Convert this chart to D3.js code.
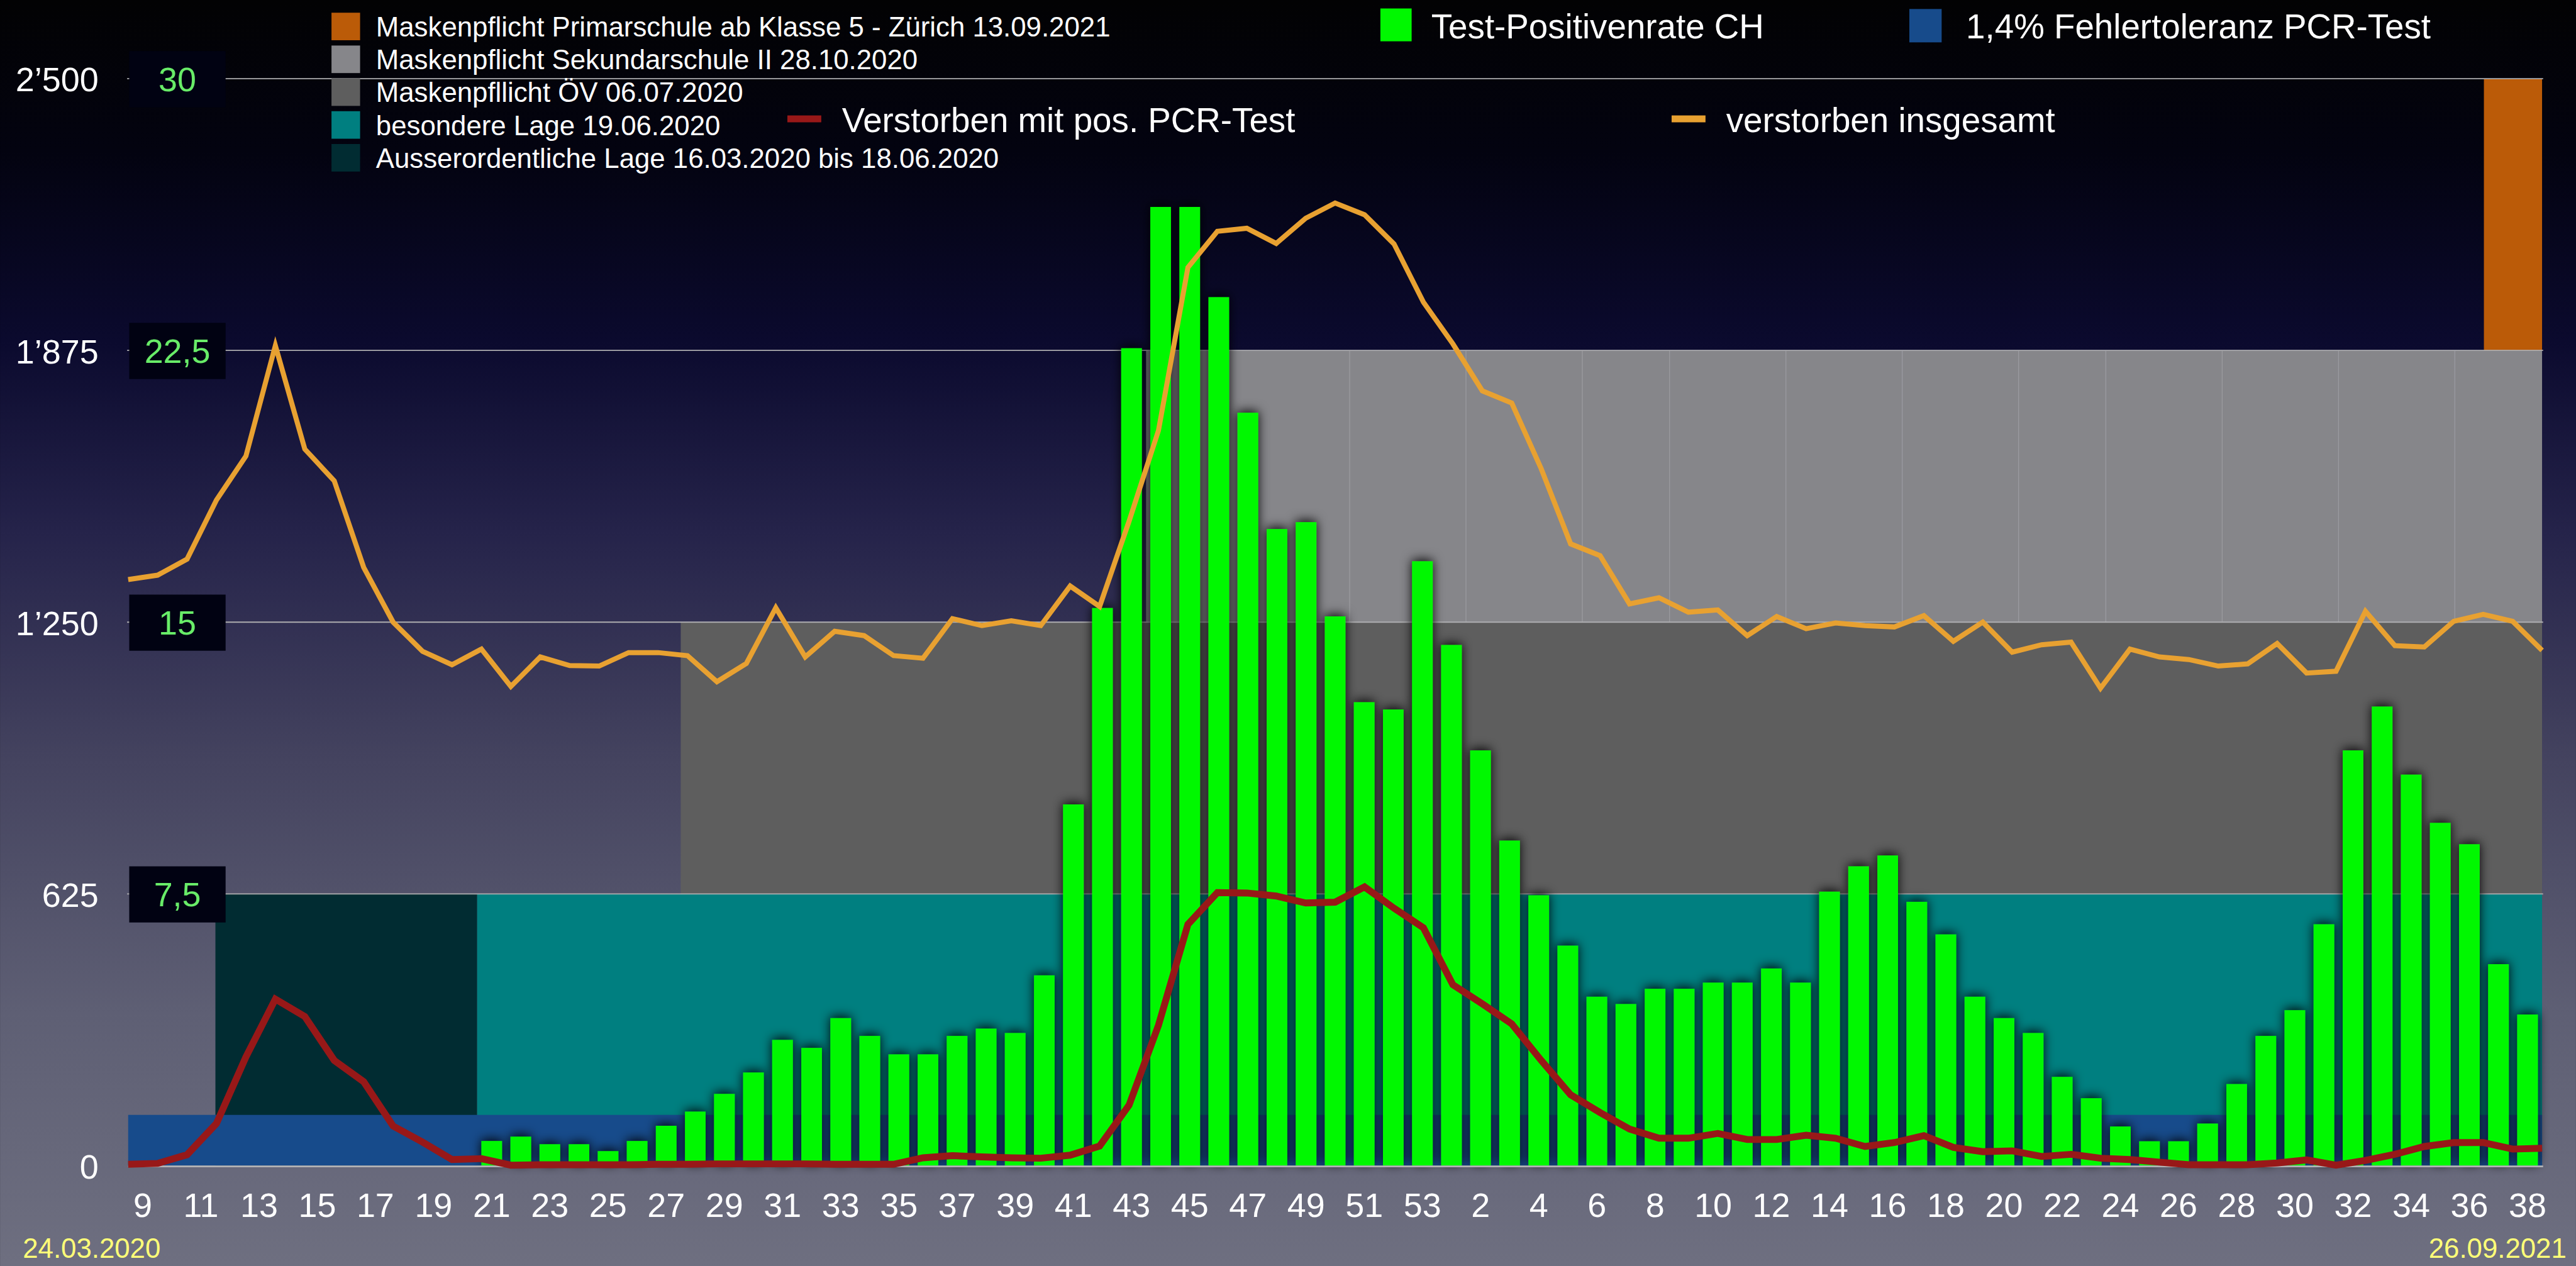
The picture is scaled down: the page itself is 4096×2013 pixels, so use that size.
<!DOCTYPE html>
<html>
<head>
<meta charset="utf-8">
<script src="https://cdn.jsdelivr.net/npm/d3@7"></script>
<style>
  html, body { margin: 0; padding: 0; background: #000; overflow: hidden; }
  svg { display: block; }
  text { font-family: 'Helvetica Neue', 'Liberation Sans', Arial, sans-serif; }
</style>
</head>
<body>
<div id="chart"></div>
<script>
// KALENDERWOCHEN
const weeks2020 = [9, 10, 11, 12, 13, 14, 15, 16, 17, 18, 19, 20, 21, 22, 23, 24, 25, 26, 27, 28, 29, 30, 31, 32, 33, 34, 35, 36, 37, 38, 39, 40, 41, 42, 43, 44, 45, 46, 47, 48, 49, 50, 51, 52, 53];
const weeks2021 = [1, 2, 3, 4, 5, 6, 7, 8, 9, 10, 11, 12, 13, 14, 15, 16, 17, 18, 19, 20, 21, 22, 23, 24, 25, 26, 27, 28, 29, 30, 31, 32, 33, 34, 35, 36, 37, 38];

// TEST-POSITIVENRATE CH in % (right axis) - no bars before KW 21/2020
const positivity = [
  null, null, null, null, null, null, null, null, null, null, null, null,
  0.68, 0.80, 0.59, 0.59, 0.40, 0.68, 1.10, 1.49, 1.98, 2.57, 3.47, 3.25, 4.07, 3.58, 3.07, 3.07, 3.58, 3.78, 3.66, 5.25, 9.97,
  15.39, 22.56, 26.46, 26.46, 23.97, 20.78, 17.57, 17.76, 15.16, 12.79, 12.59, 16.68,
  14.37, 11.46, 8.97, 7.46, 6.07, 4.66, 4.46, 4.88, 4.88, 5.05, 5.05, 5.44, 5.05, 7.56, 8.26, 8.56, 7.28, 6.38, 4.66,
  4.07, 3.66, 2.45, 1.86, 1.08, 0.67, 0.67, 1.16, 2.25, 3.58, 4.29, 6.66, 11.46, 12.67, 10.79, 9.46, 8.87, 5.56, 4.17
];

// VERSTORBEN MIT POS. PCR-TEST (left axis)
const deathsPcr = [
  3, 5, 25, 97, 250, 383, 343, 242, 193, 91, 54, 14, 16, 1, 2, 2, 2, 2, 3, 3, 4, 4, 4, 4, 3, 3, 3,
  18, 23, 20, 18, 17, 24, 45, 139, 323, 555, 628, 627, 620, 604, 606, 641, 592, 547,
  416, 372, 326, 242, 163, 122, 84, 63, 63, 74, 60, 60, 70, 63, 44, 53, 69, 42, 32, 34, 21, 26, 17, 14, 8,
  2, 2, 2, 6, 13, 1, 12, 26, 44, 53, 53, 38, 40
];

// VERSTORBEN INSGESAMT (left axis)
const deathsTotal = [
  1348, 1358, 1395, 1531, 1632, 1886, 1648, 1575, 1376, 1250, 1183, 1152, 1188, 1102, 1170, 1150, 1149, 1180, 1180, 1173,
  1113, 1155, 1283, 1170, 1229, 1219, 1173, 1167, 1258, 1242, 1253, 1242, 1333, 1286, 1482, 1691, 2066, 2149, 2156, 2121,
  2179, 2214, 2187, 2120, 1986, 1890, 1782, 1754, 1603, 1430, 1403, 1292, 1306, 1273, 1278, 1219, 1263, 1235, 1248, 1242,
  1239, 1265, 1206, 1250, 1181, 1198, 1204, 1098, 1188, 1170, 1164, 1149, 1154, 1201, 1133, 1137, 1275, 1196, 1193, 1252,
  1268, 1252, 1185
];

// AXIS TICKS
const leftTicks = [0, 625, 1250, 1875, 2500];
const rightTicks = [7.5, 15, 22.5, 30];

// MASSNAHMEN (background phases)
const phaseNames = [
  'Maskenpflicht Primarschule ab Klasse 5 - Zürich 13.09.2021',
  'Maskenpflicht Sekundarschule II 28.10.2020',
  'Maskenpfllicht ÖV 06.07.2020',
  'besondere Lage 19.06.2020',
  'Ausserordentliche Lage 16.03.2020 bis 18.06.2020'
];
const phaseColors = ['#bb5b08', '#86868a', '#5e5e5e', '#007f80', '#012c32'];
const phaseFrom = ['2021-37', '2020-44', '2020-28', '2020-21', '2020-12'];
const phaseTo = ['2021-38', '2021-38', '2021-38', '2021-38', '2020-20'];
const phaseLow = [1875, 1250, 625, 0, 0];
const phaseHigh = [2500, 1875, 1250, 625, 625];

// 1,4% FEHLERTOLERANZ
const errorTolerance = 1.4;

// faint dividers inside the grey band
const dividerWeeks = ['2020-51', '2021-2', '2021-6', '2021-9', '2021-13', '2021-17', '2021-21', '2021-24', '2021-28', '2021-32', '2021-36'];

const startDate = '24.03.2020';
const endDate = '26.09.2021';

function makeChart() {
  const keys = weeks2020.map((w) => `2020-${w}`).concat(weeks2021.map((w) => `2021-${w}`));
  const data = keys.map((k, i) => ({
    key: k,
    week: +k.split('-')[1],
    pos: positivity[i],
    pcr: deathsPcr[i],
    total: deathsTotal[i],
  }));

  const W = 4865;
  const H = 2391;
  const margin = { top: 148.6, right: 64, bottom: 189.6, left: 242 };
  const x0 = margin.left;
  const x1 = W - margin.right;
  const y0 = H - margin.bottom;
  const y1 = margin.top;

  const svg = d3
    .select('#chart')
    .append('svg')
    .attr('width', 4096)
    .attr('height', 2013)
    .attr('viewBox', `0 0 ${W} ${H}`);

  const defs = svg.append('defs');
  const grad = defs
    .append('linearGradient')
    .attr('id', 'bg')
    .attr('x1', 0).attr('y1', 0).attr('x2', 0).attr('y2', 1);
  [
    [0, '#020203'], [0.12, '#030310'], [0.27, '#0b0a2e'], [0.42, '#25234a'],
    [0.6, '#44435f'], [0.8, '#5e5f74'], [1, '#6e6f80'],
  ].forEach((s) => grad.append('stop').attr('offset', s[0]).attr('stop-color', s[1]));

  const shadow = defs
    .append('filter')
    .attr('id', 'barShadow')
    .attr('x', '-10%').attr('y', '-10%').attr('width', '120%').attr('height', '120%');
  shadow
    .append('feDropShadow')
    .attr('dx', 0).attr('dy', -3)
    .attr('stdDeviation', 10)
    .attr('flood-color', '#000')
    .attr('flood-opacity', 0.95);

  // SCALES
  const xBand = d3.scaleBand().domain(keys).range([x0, x1]).paddingInner(0.29).paddingOuter(0.145);
  const xLine = d3.scalePoint().domain(keys).range([x0, x1]);
  const yLeft = d3.scaleLinear().domain([0, 2500]).range([y0, y1]);
  const yRight = d3.scaleLinear().domain([0, 30]).range([y0, y1]);
  const step = xBand.step();
  const edge = (k) => xBand(k) - (step - xBand.bandwidth()) / 2;

  svg.append('rect').attr('width', W).attr('height', H).attr('fill', 'url(#bg)');

  // PHASES
  svg
    .append('g')
    .selectAll('rect')
    .data(phaseNames.map((n, i) => i).reverse())
    .enter()
    .append('rect')
    .attr('x', (i) => edge(phaseFrom[i]))
    .attr('y', (i) => yLeft(phaseHigh[i]))
    .attr('width', (i) => edge(phaseTo[i]) + step - edge(phaseFrom[i]))
    .attr('height', (i) => yLeft(phaseLow[i]) - yLeft(phaseHigh[i]))
    .attr('fill', (i) => phaseColors[i]);

  svg
    .append('g')
    .selectAll('line')
    .data(dividerWeeks)
    .enter()
    .append('line')
    .attr('x1', (k) => edge(k))
    .attr('x2', (k) => edge(k))
    .attr('y1', yLeft(1875))
    .attr('y2', yLeft(1250))
    .attr('stroke', '#9b9ba0')
    .attr('stroke-width', 1.5);

  // FEHLERTOLERANZ
  svg
    .append('rect')
    .attr('x', x0)
    .attr('y', yRight(errorTolerance))
    .attr('width', x1 - x0)
    .attr('height', y0 - yRight(errorTolerance))
    .attr('fill', '#174b8b');

  // GRIDLINES
  svg
    .append('g')
    .selectAll('line')
    .data(leftTicks.filter((t) => t > 0))
    .enter()
    .append('line')
    .attr('x1', x0 - 2)
    .attr('x2', x1 + 2)
    .attr('y1', (d) => yLeft(d))
    .attr('y2', (d) => yLeft(d))
    .attr('stroke', '#aeaeb0')
    .attr('stroke-width', 2.2);

  // BARS
  svg
    .append('g')
    .attr('filter', 'url(#barShadow)')
    .selectAll('rect')
    .data(data.filter((d) => d.pos !== null))
    .enter()
    .append('rect')
    .attr('x', (d) => xBand(d.key))
    .attr('y', (d) => yRight(d.pos))
    .attr('width', xBand.bandwidth())
    .attr('height', (d) => y0 - yRight(d.pos))
    .attr('fill', '#00f800');

  svg
    .append('line')
    .attr('x1', x0).attr('x2', x1 + 2)
    .attr('y1', y0 + 1.5).attr('y2', y0 + 1.5)
    .attr('stroke', '#b4b4b6')
    .attr('stroke-width', 3.5);

  // LINES
  const linePcr = d3.line().x((d) => xLine(d.key)).y((d) => yLeft(d.pcr));
  const lineTotal = d3.line().x((d) => xLine(d.key)).y((d) => yLeft(d.total));

  svg
    .append('path')
    .datum(data)
    .attr('d', linePcr)
    .attr('fill', 'none')
    .attr('stroke', '#981818')
    .attr('stroke-width', 13);

  svg
    .append('path')
    .datum(data)
    .attr('d', lineTotal)
    .attr('fill', 'none')
    .attr('stroke', '#e8a131')
    .attr('stroke-width', 9.5);

  // RIGHT AXIS LABELS (boxes)
  const right = svg
    .append('g')
    .selectAll('g')
    .data(rightTicks)
    .enter()
    .append('g')
    .attr('transform', (d) => `translate(0,${yRight(d)})`);
  right
    .append('rect')
    .attr('x', 244)
    .attr('y', -52)
    .attr('width', 182)
    .attr('height', 106)
    .attr('fill', '#010212');
  right
    .append('text')
    .attr('x', 335)
    .attr('dy', '0.36em')
    .attr('text-anchor', 'middle')
    .style('font-size', '64px')
    .style('fill', '#68ec68')
    .text((d) => String(d).replace('.', ','));

  // LEFT AXIS
  const fmt = (v) => d3.format(',')(v).replace(',', '’');
  const yAxis = d3.axisLeft(yLeft).tickValues(leftTicks).tickFormat(fmt).tickSize(0).tickPadding(0);
  const ya = svg.append('g').attr('transform', 'translate(186,0)').call(yAxis);
  ya.select('.domain').remove();
  ya.selectAll('text')
    .attr('dy', '0.37em')
    .style('font-size', '64px')
    .style('fill', '#fff')
    .style('font-family', "'Helvetica Neue', 'Liberation Sans', Arial, sans-serif");

  // X AXIS
  const xAxis = d3
    .axisBottom(xBand)
    .tickValues(keys.filter((k, i) => i % 2 === 0))
    .tickFormat((k) => k.split('-')[1])
    .tickSize(0)
    .tickPadding(51);
  const xa = svg.append('g').attr('transform', `translate(0,${y0})`).call(xAxis);
  xa.select('.domain').remove();
  xa.selectAll('text')
    .style('font-size', '64px')
    .style('fill', '#fff')
    .style('font-family', "'Helvetica Neue', 'Liberation Sans', Arial, sans-serif");

  // DATES
  svg.append('text').attr('x', 43).attr('y', 2376)
    .style('font-size', '52px').style('fill', '#ffff78').text(startDate);
  svg.append('text').attr('x', 4847).attr('y', 2376).attr('text-anchor', 'end')
    .style('font-size', '52px').style('fill', '#ffff78').text(endDate);

  // LEGEND - phases
  const leg = svg
    .append('g')
    .selectAll('g')
    .data(phaseNames)
    .enter()
    .append('g')
    .attr('transform', (d, i) => `translate(626,${24 + i * 62})`);
  leg.append('rect').attr('width', 54).attr('height', 52).attr('fill', (d, i) => phaseColors[i]);
  leg.append('text').attr('x', 84).attr('y', 45)
    .style('font-size', '52px').style('fill', '#fff').text((d) => d);

  // LEGEND - series
  const legendItems = [
    { name: 'Test-Positivenrate CH', color: '#00f800', x: 2607, y: 16, w: 59, h: 62, tx: 2703, ty: 72 },
    { name: '1,4% Fehlertoleranz PCR-Test', color: '#174b8b', x: 3606, y: 17, w: 61, h: 63, tx: 3713, ty: 72 },
    { name: 'Verstorben mit pos. PCR-Test', color: '#981818', x: 1487, y: 218, w: 64, h: 13, tx: 1590, ty: 250 },
    { name: 'verstorben insgesamt', color: '#e8a131', x: 3157, y: 218, w: 64, h: 13, tx: 3260, ty: 250 },
  ];
  legendItems.forEach((l) => {
    svg.append('rect').attr('x', l.x).attr('y', l.y).attr('width', l.w).attr('height', l.h).attr('fill', l.color);
    svg.append('text').attr('x', l.tx).attr('y', l.ty)
      .style('font-size', '65px').style('fill', '#fff').text(l.name);
  });
}

window.onload = () => {
  makeChart();
};
</script>
</body>
</html>
